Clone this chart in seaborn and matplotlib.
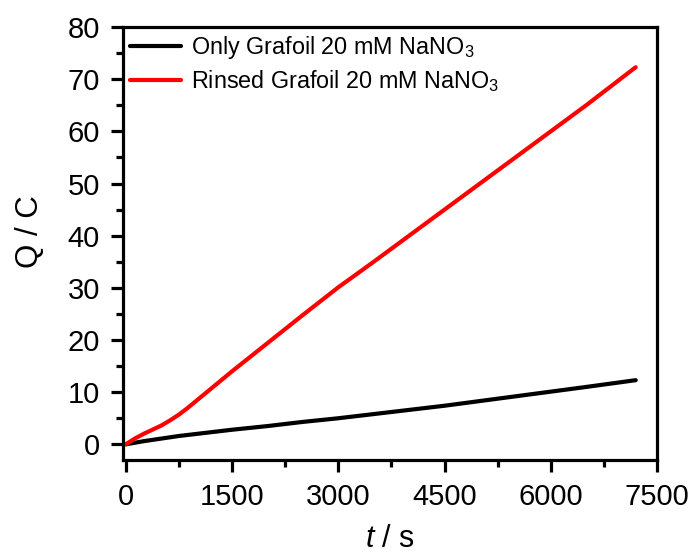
import numpy as np
import pandas as pd
import seaborn as sns
import matplotlib.pyplot as plt
from matplotlib.ticker import MultipleLocator

# Data
t_only = [0, 250, 500, 750, 1000, 1500, 2000, 2500, 3000, 3500, 4000, 4500, 5000,
          5500, 6000, 6500, 7200]
q_only = [0, 0.6, 1.1, 1.6, 2.0, 2.8, 3.5, 4.3, 5.0, 5.8, 6.6, 7.4, 8.3,
          9.2, 10.1, 11.0, 12.3]

t_rinsed = [0, 125, 250, 375, 500, 625, 750, 875, 1000, 1250, 1500, 2000, 2500,
            3000, 3500, 4000, 4500, 5000, 5500, 6000, 6500, 7200]
q_rinsed = [0, 1.1, 2.0, 2.8, 3.6, 4.6, 5.7, 7.0, 8.4, 11.2, 14.0, 19.4, 24.8,
            30.1, 35.0, 40.0, 45.0, 50.0, 55.0, 60.0, 65.0, 72.3]

label_only = 'Only Grafoil 20 mM NaNO$_3$'
label_rinsed = 'Rinsed Grafoil 20 mM NaNO$_3$'

df = pd.concat([
    pd.DataFrame({'t': t_only, 'Q': q_only, 'sample': label_only}),
    pd.DataFrame({'t': t_rinsed, 'Q': q_rinsed, 'sample': label_rinsed}),
])

sns.set_theme(style='ticks')
plt.rcParams['font.family'] = ['Liberation Sans', 'DejaVu Sans']
plt.rcParams['mathtext.fontset'] = 'custom'
plt.rcParams['mathtext.rm'] = 'Liberation Sans'
plt.rcParams['mathtext.it'] = 'Liberation Sans:italic'
plt.rcParams['text.color'] = 'black'
plt.rcParams['axes.labelcolor'] = 'black'

fig = plt.figure(figsize=(6.93, 5.52), dpi=100)
ax = fig.add_axes([0.1775, 0.1667, 0.7705, 0.7843])

sns.lineplot(data=df, x='t', y='Q', hue='sample', palette=['black', 'red'],
             linewidth=3.0, ax=ax, sort=False, estimator=None)

ax.set_xlim(-40, 7500)
ax.set_ylim(-3, 80)
ax.xaxis.set_major_locator(MultipleLocator(1500))
ax.xaxis.set_minor_locator(MultipleLocator(750))
ax.yaxis.set_major_locator(MultipleLocator(10))
ax.yaxis.set_minor_locator(MultipleLocator(5))

for side in ax.spines.values():
    side.set_linewidth(2.3)
    side.set_color('black')
ax.tick_params(which='major', length=8.6, width=2.3, labelsize=21, pad=8,
               colors='black')
ax.tick_params(which='minor', length=5, width=2.3, colors='black')
ax.tick_params(which='both', direction='out', top=False, right=False)

ax.set_xlabel('$t$ / s', fontsize=22, labelpad=9)
ax.set_ylabel('Q / C', fontsize=22.5)
ax.yaxis.set_label_coords(-0.146, 0.528)

leg = ax.legend(loc='upper left', frameon=False, fontsize=16.8, handlelength=2.2,
                handletextpad=0.4, borderaxespad=0.0, labelspacing=0.3,
                borderpad=0.3)
for line in leg.get_lines():
    line.set_linewidth(3.0)

plt.savefig('out.png', dpi=100)
